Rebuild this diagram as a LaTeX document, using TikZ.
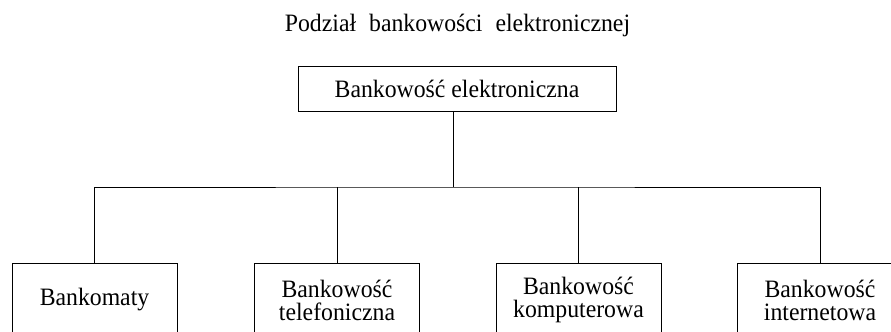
\documentclass[tikz,border=0pt]{standalone}
\usepackage{fontspec}
\setmainfont{Liberation Serif}[FakeStretch=0.95]
\usetikzlibrary{positioning}

\begin{document}
\begin{tikzpicture}[
    x=0.5pt, y=-0.5pt,
    font=\fontsize{12.5}{11.5}\selectfont,
    box/.style={draw, rectangle, line width=0.5pt, minimum width=82.5pt, minimum height=37pt, align=center, inner sep=0pt},
    topbox/.style={draw, rectangle, line width=0.5pt, minimum width=159pt, minimum height=22.5pt, inner sep=0pt},
    line/.style={line width=0.5pt}
]
\useasboundingbox (0,0) rectangle (891,332);

% Tytul
\node (title) at (457.5,25) {Podział\hspace{6.5pt}bankowości\hspace{6.5pt}elektronicznej};

% Wezel glowny
\node[topbox] (top) at (457,88.5) {Bankowość elektroniczna};

% Rodzaje bankowosci
\node[box] (atm) at (94.5,300) {Bankomaty};
\node[box] (phone) at (337,300) {Bankowość\\telefoniczna};
\node[box] (pc) at (578.5,300) {Bankowość\\komputerowa};
\node[box] (web) at (820,300) {Bankowość\\internetowa};

% Polaczenia
\coordinate (bus) at (453,187);
\draw[line] (top.south -| bus) -- (bus);
\draw[line] (atm.north) |- (bus) -| (web.north);
\draw[line] (phone.north) -- (phone.north |- bus);
\draw[line] (pc.north) -- (pc.north |- bus);

\end{tikzpicture}
\end{document}
